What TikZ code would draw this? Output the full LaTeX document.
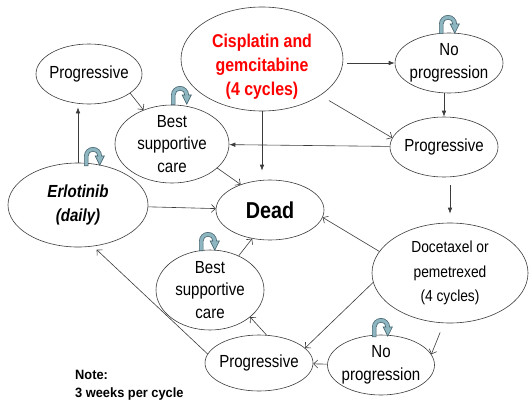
\documentclass[tikz,border=0pt]{standalone}
\usepackage{fontspec}
\setmainfont{Liberation Sans}[FakeStretch=0.86]
\newfontfamily\notefont{Liberation Sans}[FakeStretch=0.95]
\usetikzlibrary{shapes.geometric,arrows.meta,calc}
\definecolor{loopfill}{RGB}{141,182,192}
\definecolor{loopline}{RGB}{70,100,112}
\definecolor{edgecol}{RGB}{60,60,60}
\tikzset{
 st/.style={ellipse, draw=edgecol, line width=0.6pt, inner sep=-15pt, align=center, font=\fontsize{17.5}{22.5}\selectfont},
 fa/.style={draw=edgecol, line width=0.6pt, -{Latex[length=6pt,width=4.5pt]}},
 oa/.style={draw=edgecol, line width=0.6pt, -{Straight Barb[length=4pt,width=8pt]}},
 loopy/.pic={\path[yscale=-1, scale=1.08, fill=loopfill, draw=loopline, line width=0.6pt] (-8,0) -- (-8,9) arc[start angle=180,end angle=0,radius=8] -- (10.5,9) -- (6.25,0.5) -- (2,9) -- (4.5,9) arc[start angle=0,end angle=180,radius=4.5] -- (-4.5,0) -- cycle;}
}
\begin{document}
\begin{tikzpicture}[x=1pt,y=-1pt]
\fill[white] (0,0) rectangle (529,404);
\useasboundingbox (0,0) rectangle (529,404);
\node[st, minimum width=162pt, minimum height=104pt, label={[yshift=-8pt, align=center, text=red, font=\bfseries\fontsize{18.5}{24}\selectfont]center:{Cisplatin and\\gemcitabine\\(4 cycles)}}] (cis) at (262,59) {};
\node[st, minimum width=108pt, minimum height=60pt] (np1) at (449,63) {No\\progression};
\node[st, minimum width=108pt, minimum height=60pt] (pr1) at (444,147) {Progressive};
\node[st, minimum width=106pt, minimum height=60pt] (pl) at (89,74) {Progressive};
\node[st, minimum width=114pt, minimum height=78pt] (bsc1) at (172,144) {Best\\supportive\\care};
\node[st, minimum width=140pt, minimum height=84pt, font=\bfseries\itshape\fontsize{17.5}{24}\selectfont] (erl) at (78,205) {Erlotinib\\(daily)};
\node[st, minimum width=108pt, minimum height=60pt, font=\bfseries\fontsize{23}{26}\selectfont] (dead) at (270,210) {Dead};
\node[st, minimum width=156pt, minimum height=100pt, font=\fontsize{16}{24.5}\selectfont] (doc) at (450,273) {Docetaxel or\\pemetrexed\\(4 cycles)};
\node[st, minimum width=108pt, minimum height=80pt] (bsc2) at (210,290) {Best\\supportive\\care};
\node[st, minimum width=108pt, minimum height=56pt] (pr2) at (259,363) {Progressive};
\node[st, minimum width=107pt, minimum height=60pt] (np2) at (381,365) {No\\progression};
\node[anchor=west, align=left, inner sep=0pt, font=\notefont\bfseries\fontsize{13.5}{18}\selectfont] (note) at (75,385) {Note:\\3 weeks per cycle};
% connectors
\draw[fa, shorten <=4pt] (cis.east |- np1.west) -- (np1.west);
\draw[oa, shorten <=10pt] (cis.-32) -- (pr1.170);
\draw[fa] (pr1.north |- np1.south) -- (pr1.north);
\draw[fa, shorten >=9pt] (cis.south) -- (cis.south |- dead.north);
\draw[fa] (pr1) -- (bsc1);
\draw[fa, shorten <=8pt, shorten >=9pt] (doc.north |- pr1.south) -- (doc.north);
\draw[oa] (pl.-25) -- (bsc1.130);
\draw[fa, shorten >=3pt] (erl.north) -- (erl.north |- pl.south);
\draw[oa] (bsc1.-28) -- (dead.139);
\draw[oa] (erl) -- (dead);
\draw[oa] (doc.163) -- (dead.-8);
\draw[oa] (bsc2.50) -- (dead.238);
\draw[oa] (doc.187) -- (pr2.18);
\draw[oa, shorten <=10pt] (doc.263) -- (np2.12);
\draw[oa] (np2) -- (pr2);
\draw[oa] (pr2.75) -- (bsc2.-34);
\draw[oa, shorten >=5pt] (pr2.170) -- (erl.-70);
% self loops
\pic at ($(bsc1.north)+(8,0)$) {loopy};
\pic at ($(erl.north)+(15,3)$) {loopy};
\pic at ($(np1.north)+(-1,1)$) {loopy};
\pic at ($(bsc2.north)+(-2,1)$) {loopy};
\pic at ($(np2.north)+(0,2)$) {loopy};
\end{tikzpicture}
\end{document}
